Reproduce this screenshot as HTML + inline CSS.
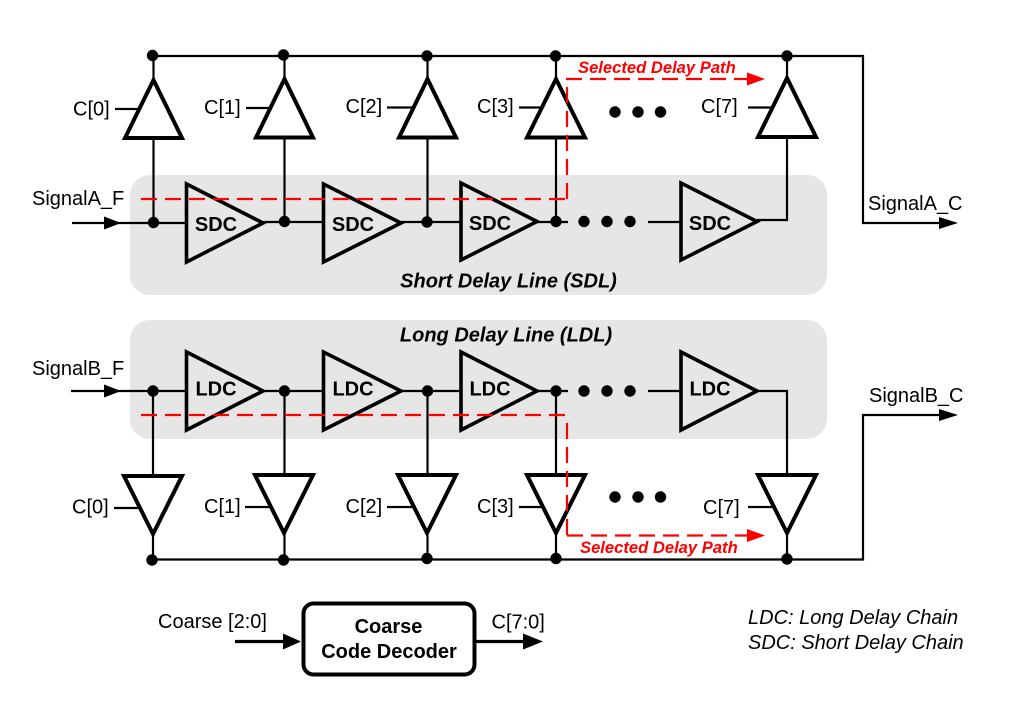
<!DOCTYPE html>
<html><head><meta charset="utf-8"><style>html,body{margin:0;padding:0;background:#fff}svg{display:block}text{font-family:"Liberation Sans",sans-serif}</style></head><body>
<svg width="1024" height="707" viewBox="0 0 1024 707" xmlns="http://www.w3.org/2000/svg">
<rect width="1024" height="707" fill="#fff"/>
<rect x="130" y="175" width="697" height="120" rx="20" fill="#e6e6e6"/>
<rect x="130" y="320" width="697" height="119" rx="20" fill="#e6e6e6"/>
<g fill="none" stroke="#000" stroke-width="2.2">
<path d="M152 56H863V223H942"/>
<path d="M153.500 56V80M153.500 138V223M284.500 56V80M284.500 138V222M427.500 56V80M427.500 138V222M556 56V80M556 138V222M787 56V80M787 138V220H757"/>
<path d="M72 223H186M263 222H323M401 222H461M537 222H568M648 222H681"/>
<path d="M71 391H186M263 391H323M401 391H461M537 391H568M648 391H681M757 391H787V476"/>
<path d="M153 391V476M153 534V560M284.500 391V476M284.500 534V560M427.500 391V476M427.500 534V560M556 391V476M556 534V560M787 534V560"/>
<path d="M152 559.500H863V415H942"/>
<path d="M115 109H138M246 108H269M387 107.500H412M519 107.500H542M748 107.500H772M114 508H138M245 507H269M387 507H412M519 507H542M748 507H772"/>
</g>
<g fill="none" stroke="#000" stroke-width="4" stroke-linejoin="miter">
<path d="M153.500 80L182 138H125Z"/><path d="M284.500 79L313 137.500H256Z"/><path d="M427.500 79L456 137.500H399Z"/><path d="M556 79L585 137.500H527Z"/><path d="M787 78L816 137H758Z"/>
<path d="M153 534L124 476H182Z"/><path d="M284 533L255 475H313Z"/><path d="M427 533L398 475H456Z"/><path d="M556 533L527 475H585Z"/><path d="M787 533L758 475H816Z"/>
</g>
<g fill="none" stroke="#000" stroke-width="3.600" stroke-linejoin="miter">
<path d="M186.500 184V262L263 223Z"/><path d="M323.500 184V262L401 223Z"/><path d="M461 183V260L537 221.500Z"/><path d="M681 183V260L757 221.500Z"/>
<path d="M186.500 352V430L263 391Z"/><path d="M323.500 352V430L401 391Z"/><path d="M461 352V430L537 391Z"/><path d="M681 352V430L757 391Z"/>
</g>
<g fill="#000">
<circle cx="152.500" cy="55.500" r="5.700"/><circle cx="283.500" cy="55" r="5.700"/><circle cx="427" cy="56" r="5.700"/><circle cx="555.500" cy="56" r="5.700"/><circle cx="787" cy="56" r="5.700"/>
<circle cx="153.500" cy="222.500" r="5.700"/><circle cx="284.500" cy="221.500" r="5.700"/><circle cx="427" cy="222" r="5.700"/><circle cx="556" cy="221.500" r="5.700"/>
<circle cx="153" cy="391" r="5.700"/><circle cx="284.500" cy="391" r="5.700"/><circle cx="427.500" cy="391" r="5.700"/><circle cx="556" cy="391" r="5.700"/>
<circle cx="152" cy="560" r="5.700"/><circle cx="283.500" cy="560" r="5.700"/><circle cx="427" cy="558.500" r="5.700"/><circle cx="556" cy="558.500" r="5.700"/><circle cx="787" cy="559" r="5.700"/>
<circle cx="615" cy="112" r="5.700"/><circle cx="638" cy="112" r="5.700"/><circle cx="660.500" cy="112" r="5.700"/>
<circle cx="615" cy="497" r="5.700"/><circle cx="638" cy="497" r="5.700"/><circle cx="660.500" cy="497" r="5.700"/>
<circle cx="584" cy="221.500" r="5.700"/><circle cx="607" cy="221.500" r="5.700"/><circle cx="630" cy="221.500" r="5.700"/>
<circle cx="584" cy="391" r="5.700"/><circle cx="607" cy="391" r="5.700"/><circle cx="630" cy="391" r="5.700"/>
<path d="M104 216.500L121 223L104 229.500Z"/><path d="M104 384.500L121 391L104 397.500Z"/>
<path d="M939 217L958 223L939 229Z"/><path d="M939 409L958 415L939 421Z"/>
</g>
<g fill="none" stroke="#f00" stroke-width="2.200" stroke-dasharray="16,8">
<path d="M141 199H566"/>
<path d="M567 199V80"/>
<path d="M566 79H750"/>
<path d="M141 415H565"/>
<path d="M567 423V535.500"/>
<path d="M567 535.500H750"/>
</g>
<path d="M747 72.500L765 79L747 85.500Z" fill="#f00"/><path d="M747 529L765 535.500L747 542Z" fill="#f00"/>
<g font-size="20" fill="#000">
<text x="32" y="205">SignalA_F</text><text x="32" y="375">SignalB_F</text>
<text x="868" y="210">SignalA_C</text><text x="869" y="402">SignalB_C</text>
<text x="73" y="115.500">C[0]</text><text x="204" y="114">C[1]</text><text x="345.500" y="113">C[2]</text><text x="477" y="113">C[3]</text><text x="701" y="113">C[7]</text>
<text x="72" y="513.500">C[0]</text><text x="204" y="513">C[1]</text><text x="345.500" y="513">C[2]</text><text x="477" y="513">C[3]</text><text x="703" y="514">C[7]</text>
<text x="158" y="628">Coarse [2:0]</text><text x="491.500" y="628.500">C[7:0]</text>
<text x="748" y="624" font-style="italic">LDC: Long Delay Chain</text><text x="748" y="649" font-style="italic">SDC: Short Delay Chain</text>
</g>
<g font-size="20" font-weight="bold" fill="#000" text-anchor="middle">
<text x="216" y="231">SDC</text><text x="353" y="231">SDC</text><text x="490" y="230">SDC</text><text x="710" y="230">SDC</text>
<text x="216" y="395.500">LDC</text><text x="353" y="395.500">LDC</text><text x="490" y="395.500">LDC</text><text x="710" y="395.500">LDC</text>
<text x="388.500" y="633">Coarse</text><text x="389" y="658">Code Decoder</text>
<text x="508.500" y="287.500" font-style="italic">Short Delay Line (SDL)</text><text x="506" y="341.500" font-style="italic">Long Delay Line (LDL)</text>
</g>
<g font-size="16.600" font-weight="bold" font-style="italic" fill="#f00"><text x="578" y="73">Selected Delay Path</text><text x="580" y="553">Selected Delay Path</text></g>
<rect x="303.500" y="603.500" width="171" height="71" rx="10" fill="none" stroke="#000" stroke-width="4"/>
<path d="M235 641.500H288M475 641.500H528" stroke="#000" stroke-width="3.300" fill="none"/>
<path d="M283 633.500L301 641.500L283 649.500Z" fill="#000"/><path d="M523 633.500L543 641.500L523 649.500Z" fill="#000"/>
</svg></body></html>
